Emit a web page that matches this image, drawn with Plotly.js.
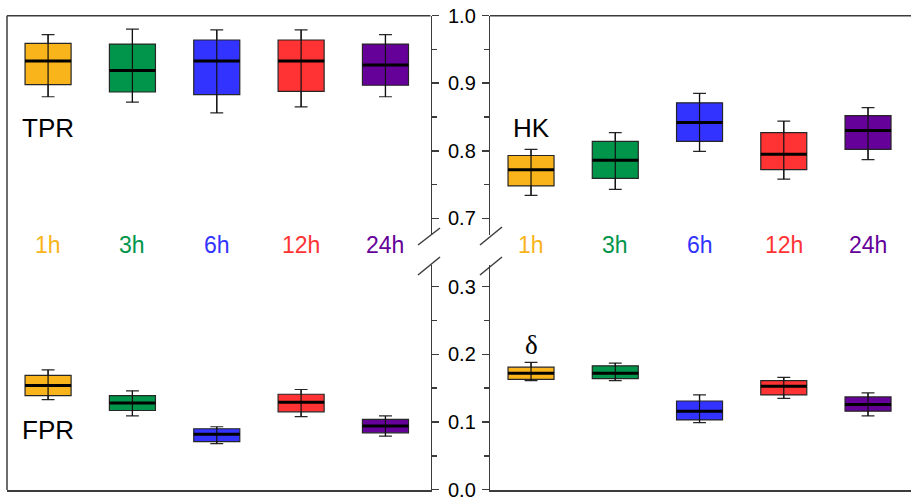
<!DOCTYPE html>
<html><head><meta charset="utf-8">
<script src="https://cdn.plot.ly/plotly-3.0.1.min.js"></script>
<style>html,body{margin:0;padding:0;background:#fff}#chart{width:911px;height:498px}</style>
</head><body><div id="chart"></div>
<script>
const hours = ['1h', '3h', '6h', '12h', '24h'];
const positions = [0, 1, 2, 3, 4];
const colors = ['#F9B31B', '#00954A', '#3333FF', '#FF3333', '#650099'];

// TPR (left panel, upper axis)
const tprLow  = [0.880, 0.872, 0.856, 0.865, 0.880];
const tprQ1   = [0.898, 0.887, 0.883, 0.888, 0.897];
const tprMed  = [0.933, 0.919, 0.933, 0.933, 0.927];
const tprQ3   = [0.959, 0.958, 0.964, 0.964, 0.958];
const tprHigh = [0.972, 0.980, 0.979, 0.979, 0.972];

// FPR (left panel, lower axis)
const fprLow  = [0.133, 0.109, 0.068, 0.108, 0.079];
const fprQ1   = [0.139, 0.117, 0.071, 0.115, 0.084];
const fprMed  = [0.154, 0.128, 0.082, 0.129, 0.094];
const fprQ3   = [0.169, 0.139, 0.090, 0.141, 0.104];
const fprHigh = [0.177, 0.146, 0.093, 0.148, 0.109];

// HK (right panel, upper axis)
const hkLow  = [0.734, 0.743, 0.799, 0.758, 0.787];
const hkQ1   = [0.748, 0.759, 0.814, 0.772, 0.802];
const hkMed  = [0.772, 0.786, 0.842, 0.795, 0.830];
const hkQ3   = [0.793, 0.814, 0.871, 0.827, 0.852];
const hkHigh = [0.802, 0.827, 0.885, 0.844, 0.864];

// delta (right panel, lower axis)
const dLow  = [0.161, 0.161, 0.099, 0.135, 0.109];
const dQ1   = [0.163, 0.164, 0.103, 0.140, 0.116];
const dMed  = [0.172, 0.172, 0.116, 0.153, 0.126];
const dQ3   = [0.181, 0.183, 0.131, 0.161, 0.137];
const dHigh = [0.188, 0.187, 0.140, 0.166, 0.143];

const W = 911, H = 498;
const BOXW = 0.546;
const AX = '#3c3c3c';
const FONT = 'Liberation Sans, Arial, sans-serif';

const metrics = [
  {low: tprLow, q1: tprQ1, med: tprMed, q3: tprQ3, high: tprHigh, xa: 'x', ya: 'y'},
  {low: fprLow, q1: fprQ1, med: fprMed, q3: fprQ3, high: fprHigh, xa: 'x', ya: 'y3'},
  {low: hkLow, q1: hkQ1, med: hkMed, q3: hkQ3, high: hkHigh, xa: 'x2', ya: 'y2'},
  {low: dLow, q1: dQ1, med: dMed, q3: dQ3, high: dHigh, xa: 'x2', ya: 'y4'}
];

const data = [];
metrics.forEach(m => {
  positions.forEach((p, i) => {
    data.push({
      type: 'box', x: [p], q1: [m.q1[i]], median: [m.med[i]], q3: [m.q3[i]],
      lowerfence: [m.low[i]], upperfence: [m.high[i]],
      xaxis: m.xa, yaxis: m.ya, fillcolor: colors[i],
      line: {color: '#262626', width: 1.2}, whiskerwidth: 0.28, width: BOXW,
      boxpoints: false, hoverinfo: 'skip', showlegend: false
    });
  });
});
metrics.forEach(m => {
  const wx = [], wy = [], mx = [], my = [];
  positions.forEach((p, i) => {
    wx.push(p, p, null); wy.push(m.low[i], m.high[i], null);
    mx.push(p - BOXW / 2, p + BOXW / 2, null); my.push(m.med[i], m.med[i], null);
  });
  data.push({type: 'scatter', mode: 'lines', x: wx, y: wy, xaxis: m.xa, yaxis: m.ya,
    line: {color: '#111', width: 1.2}, hoverinfo: 'skip', showlegend: false});
  data.push({type: 'scatter', mode: 'lines', x: mx, y: my, xaxis: m.xa, yaxis: m.ya,
    line: {color: '#000', width: 3}, hoverinfo: 'skip', showlegend: false});
});

const px = v => v / W, py = v => 1 - v / H;
const topDom = [py(235), py(15.7)], botDom = [py(490), py(265)];

function yax(dom, range, anchor, side, labels) {
  return {domain: dom, range: range, anchor: anchor, side: side,
    showline: true, linecolor: AX, linewidth: 1.5,
    ticks: 'outside', ticklen: 7, tickwidth: 1.5, tickcolor: AX,
    tick0: 0, dtick: 0.1, tickformat: '.1f', showticklabels: labels,
    ticklabelstandoff: 5, ticklabeloverflow: 'allow',
    minor: {tick0: 0, dtick: 0.05, ticks: 'outside', ticklen: 4.5, tickwidth: 1.5, tickcolor: AX, showgrid: false},
    tickfont: {family: FONT, size: 20, color: '#000'},
    showgrid: false, zeroline: false, fixedrange: true};
}
function xax(dom, range, anchor) {
  return {domain: dom, range: range, anchor: anchor, showline: true, linecolor: AX, linewidth: 1.5,
    ticks: '', showticklabels: false, showgrid: false, zeroline: false, fixedrange: true};
}

const annotations = [];
positions.forEach((p, i) => {
  ['x', 'x2'].forEach(xr => annotations.push({xref: xr, yref: 'paper', x: p, y: py(245),
    text: hours[i], showarrow: false, xanchor: 'center', yanchor: 'middle',
    font: {family: FONT, size: 23, color: colors[i]}}));
});
annotations.push({xref: 'paper', yref: 'paper', x: px(20), y: py(128), text: 'TPR', showarrow: false,
  xanchor: 'left', yanchor: 'middle', font: {family: FONT, size: 26, color: '#000'}});
annotations.push({xref: 'paper', yref: 'paper', x: px(20), y: py(430), text: 'FPR', showarrow: false,
  xanchor: 'left', yanchor: 'middle', font: {family: FONT, size: 26, color: '#000'}});
annotations.push({xref: 'x2', yref: 'paper', x: 0, y: py(128), text: 'HK', showarrow: false,
  xanchor: 'center', yanchor: 'middle', font: {family: FONT, size: 26, color: '#000'}});
annotations.push({xref: 'x2', yref: 'paper', x: 0, y: py(345), text: 'δ', showarrow: false,
  xanchor: 'center', yanchor: 'middle', font: {family: 'Liberation Serif, Times New Roman, serif', size: 27, color: '#000'}});

function seg(x0, y0, x1, y1) {
  return {type: 'line', xref: 'paper', yref: 'paper', x0: px(x0), y0: py(y0), x1: px(x1), y1: py(y1),
    line: {color: AX, width: 1.5}};
}
const shapes = [
  seg(7, 15.7, 7, 490), seg(7, 15.7, 430.5, 15.7), seg(490, 15.7, 911, 15.7),
  seg(418, 245, 440, 228), seg(418, 275, 440, 257),
  seg(480, 245, 502, 227), seg(480, 275, 502, 257)
];

const layout = {
  width: W, height: H, margin: {l: 0, r: 0, t: 0, b: 0},
  paper_bgcolor: '#fff', plot_bgcolor: 'rgba(0,0,0,0)', showlegend: false, boxmode: 'overlay',
  xaxis: xax([px(7), px(430.5)], [-0.487, 4.534], 'y3'),
  xaxis2: xax([px(490), 1], [-0.487, 4.51], 'y4'),
  yaxis: yax(topDom, [0.6753, 1.0], 'x', 'right', true),
  yaxis3: yax(botDom, [-0.0005, 0.332], 'x', 'right', true),
  yaxis2: yax(topDom, [0.6753, 1.0], 'x2', 'left', false),
  yaxis4: yax(botDom, [-0.0005, 0.332], 'x2', 'left', false),
  annotations: annotations, shapes: shapes
};
Plotly.newPlot('chart', data, layout, {displayModeBar: false, staticPlot: true});
</script></body></html>
